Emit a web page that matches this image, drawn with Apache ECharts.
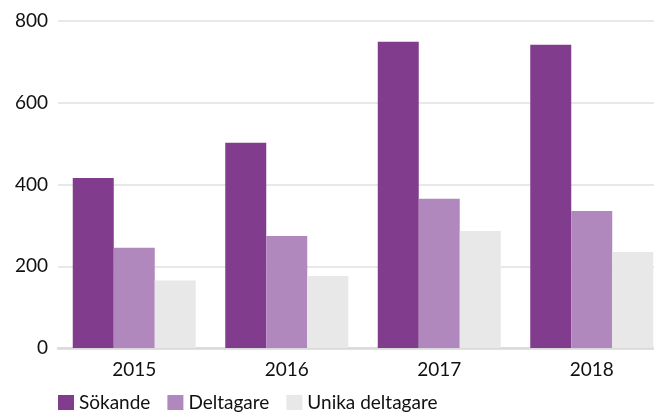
<!DOCTYPE html>
<html><head><meta charset="utf-8">
<script src="https://cdn.jsdelivr.net/npm/echarts@6/dist/echarts.min.js"></script>
<style>html,body{margin:0;padding:0;background:#fff;overflow:hidden}#c{width:668px;height:414px}</style>
</head><body><div id="c"></div>
<script>
const categories = ["2015", "2016", "2017", "2018"];
const sokande = [416, 502, 749, 742];
const deltagare = [245, 274, 365, 335];
const unika = [165, 176, 286, 235];
const seriesNames = ["Sökande", "Deltagare", "Unika deltagare"];
const yTicks = [0, 200, 400, 600, 800];

const colors = ["#823C8D", "#B088BE", "#E8E8E8"];
const font = "Lato, 'Open Sans', sans-serif";
const chart = echarts.init(document.getElementById('c'));
chart.setOption({
  animation: false,
  color: colors,
  textStyle: { fontFamily: font },
  grid: { left: 58, right: 0, top: 21, bottom: 66 },
  legend: {
    left: 58, top: 393, padding: 0, itemWidth: 16, itemHeight: 15, itemGap: 17,
    icon: 'rect',
    textStyle: { fontSize: 19, color: '#111', fontFamily: font },
    data: seriesNames
  },
  xAxis: {
    type: 'category', data: categories,
    axisLine: { lineStyle: { color: '#D9D9D9', width: 2.5 } },
    axisTick: { show: false },
    axisLabel: { fontSize: 19, color: '#111', margin: 12 }
  },
  yAxis: {
    type: 'value', min: yTicks[0], max: yTicks[yTicks.length - 1], interval: 200,
    axisLine: { show: false }, axisTick: { show: false },
    axisLabel: { fontSize: 19, color: '#111', margin: 10 },
    splitLine: { lineStyle: { color: '#E0E0E0', width: 1.5 } }
  },
  series: [
    { name: seriesNames[0], type: 'bar', data: sokande, barWidth: 41, barGap: '0%' },
    { name: seriesNames[1], type: 'bar', data: deltagare, barWidth: 41, barGap: '0%' },
    { name: seriesNames[2], type: 'bar', data: unika, barWidth: 41, barGap: '0%' }
  ]
});
</script></body></html>
